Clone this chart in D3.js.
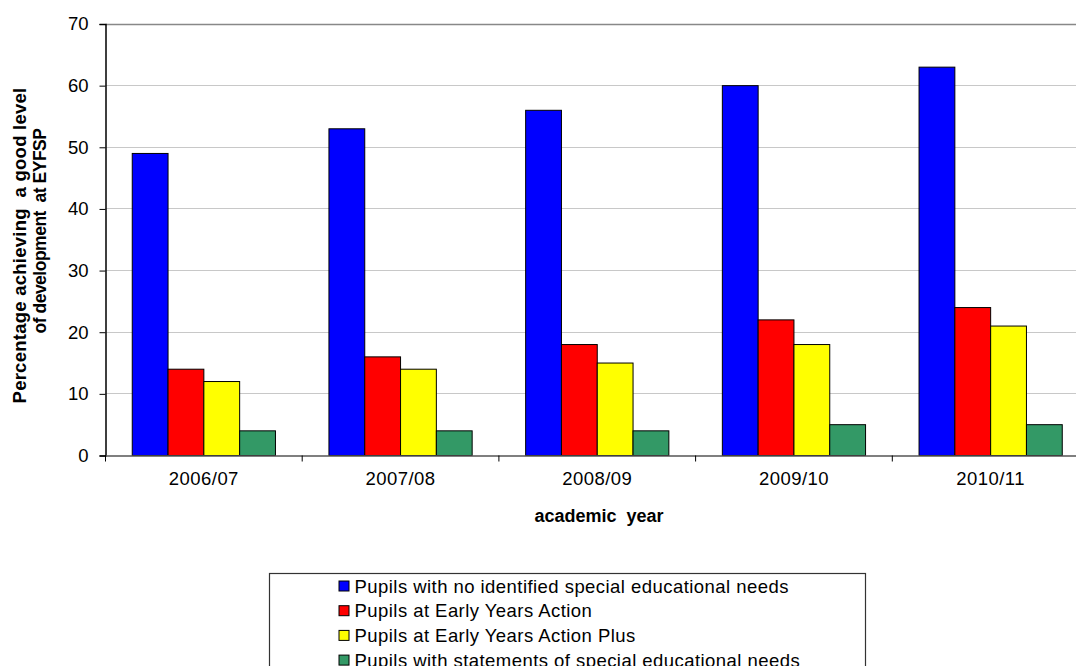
<!DOCTYPE html>
<html><head><meta charset="utf-8">
<script src="https://cdn.jsdelivr.net/npm/d3@7"></script>
<style>
body{margin:0;background:#fff;}
svg{display:block;}
text{font-family:Arial,"Liberation Sans",sans-serif;fill:#000;}
</style></head>
<body>
<svg id="chart" width="1076" height="666"></svg>
<script>
const categories = ["2006/07","2007/08","2008/09","2009/10","2010/11"];
const seriesNames = [
  "Pupils with no identified special educational needs",
  "Pupils at Early Years Action",
  "Pupils at Early Years Action Plus",
  "Pupils with statements of special educational needs"
];
const noSEN = [49,53,56,60,63];
const eyAction = [14,16,18,22,24];
const eyActionPlus = [12,14,15,18,21];
const statements = [4,4,4,5,5];
const seriesValues = [noSEN, eyAction, eyActionPlus, statements];
const colors = ["#0000FF","#FF0000","#FFFF00","#339966"];
const yTicks = [0,10,20,30,40,50,60,70];

const svg = d3.select("#chart");
const plotLeft = 105.5, plotTop = 24, plotBottom = 455.5, step = 196.7;
const plotRight = plotLeft + step*categories.length;

const x0 = d3.scaleBand().domain(categories).range([plotLeft, plotRight]).padding(0);
const x1 = d3.scaleBand().domain(d3.range(seriesNames.length)).range([0, x0.bandwidth()]).paddingInner(0).paddingOuter(0.747);
const y = d3.scaleLinear().domain([0,70]).range([plotBottom, plotTop]);

// gridlines
svg.append("g").selectAll("line").data(yTicks.filter(t=>t>0)).join("line")
  .attr("x1", plotLeft).attr("x2", plotRight)
  .attr("y1", d=>Math.floor(y(d))+0.5).attr("y2", d=>Math.floor(y(d))+0.5)
  .attr("stroke", d=> d===70 ? "#888" : "#c8c8c8").attr("stroke-width", d=> d===70?1.5:1);

// bars
const data = [];
categories.forEach((c,i)=>seriesValues.forEach((s,j)=>data.push({c, j, v:s[i]})));
svg.append("g").selectAll("rect").data(data).join("rect")
  .attr("x", d=>x0(d.c)+x1(d.j))
  .attr("y", d=>y(d.v))
  .attr("width", x1.bandwidth())
  .attr("height", d=>plotBottom - y(d.v))
  .attr("fill", d=>colors[d.j])
  .attr("stroke", "#000").attr("stroke-width", 1);

// y axis
const yAxis = d3.axisLeft(y).tickValues(yTicks).tickSize(6).tickPadding(11);
const gy = svg.append("g").attr("transform", `translate(${plotLeft},0)`).call(yAxis);
gy.select(".domain").attr("stroke","#000").attr("stroke-width",1.5);
gy.selectAll(".tick line").attr("stroke","#000");
gy.selectAll(".tick text").style("font-size","18.5px").attr("fill","#000");

// x axis
const xAxis = d3.axisBottom(x0).tickSize(0).tickPadding(0);
const gx = svg.append("g").attr("transform", `translate(0,${plotBottom})`).call(xAxis);
gx.select(".domain").attr("stroke","#555").attr("stroke-width",1.5);
gx.selectAll(".tick text").style("font-size","18.5px").style("letter-spacing","0.45px")
  .attr("y", 29.5).attr("dy", null).attr("fill","#000");
// category boundary ticks
svg.append("g").selectAll("line").data(d3.range(categories.length+1)).join("line")
  .attr("x1", i=>plotLeft+i*x0.step()).attr("x2", i=>plotLeft+i*x0.step())
  .attr("y1", plotBottom).attr("y2", plotBottom+6)
  .attr("stroke","#000");

// axis titles
svg.append("text").attr("x", 599).attr("y", 522).attr("text-anchor","middle")
  .style("font-size","18px").style("font-weight","bold").style("white-space","pre")
  .text("academic  year");
svg.append("text").attr("transform","translate(26,245.5) rotate(-90)").attr("text-anchor","middle")
  .style("font-size","18.5px").style("font-weight","bold").style("white-space","pre").style("letter-spacing","0.25px")
  .text("Percentage achieving  a good level");
svg.append("text").attr("transform","translate(46,231) rotate(-90)").attr("text-anchor","middle")
  .style("font-size","17.5px").style("font-weight","bold").style("white-space","pre").style("letter-spacing","-0.5px")
  .text("of development  at EYFSP");

// legend
const lg = svg.append("g");
lg.append("rect").attr("x",269.5).attr("y",573.5).attr("width",596).attr("height",120)
  .attr("fill","#fff").attr("stroke","#333").attr("stroke-width",1.2);
const rows = lg.selectAll("g.row").data(seriesNames).join("g").attr("class","row")
  .attr("transform",(d,i)=>`translate(0,${586 + i*24.7})`);
rows.append("rect").attr("x",339).attr("y",-5).attr("width",10).attr("height",10)
  .attr("fill",(d,i)=>colors[i]).attr("stroke","#000").attr("stroke-width",1);
rows.append("text").attr("x",354.5).attr("y",6.5)
  .style("font-size","18.5px").style("letter-spacing","0.45px").text(d=>d);
</script>
</body></html>
